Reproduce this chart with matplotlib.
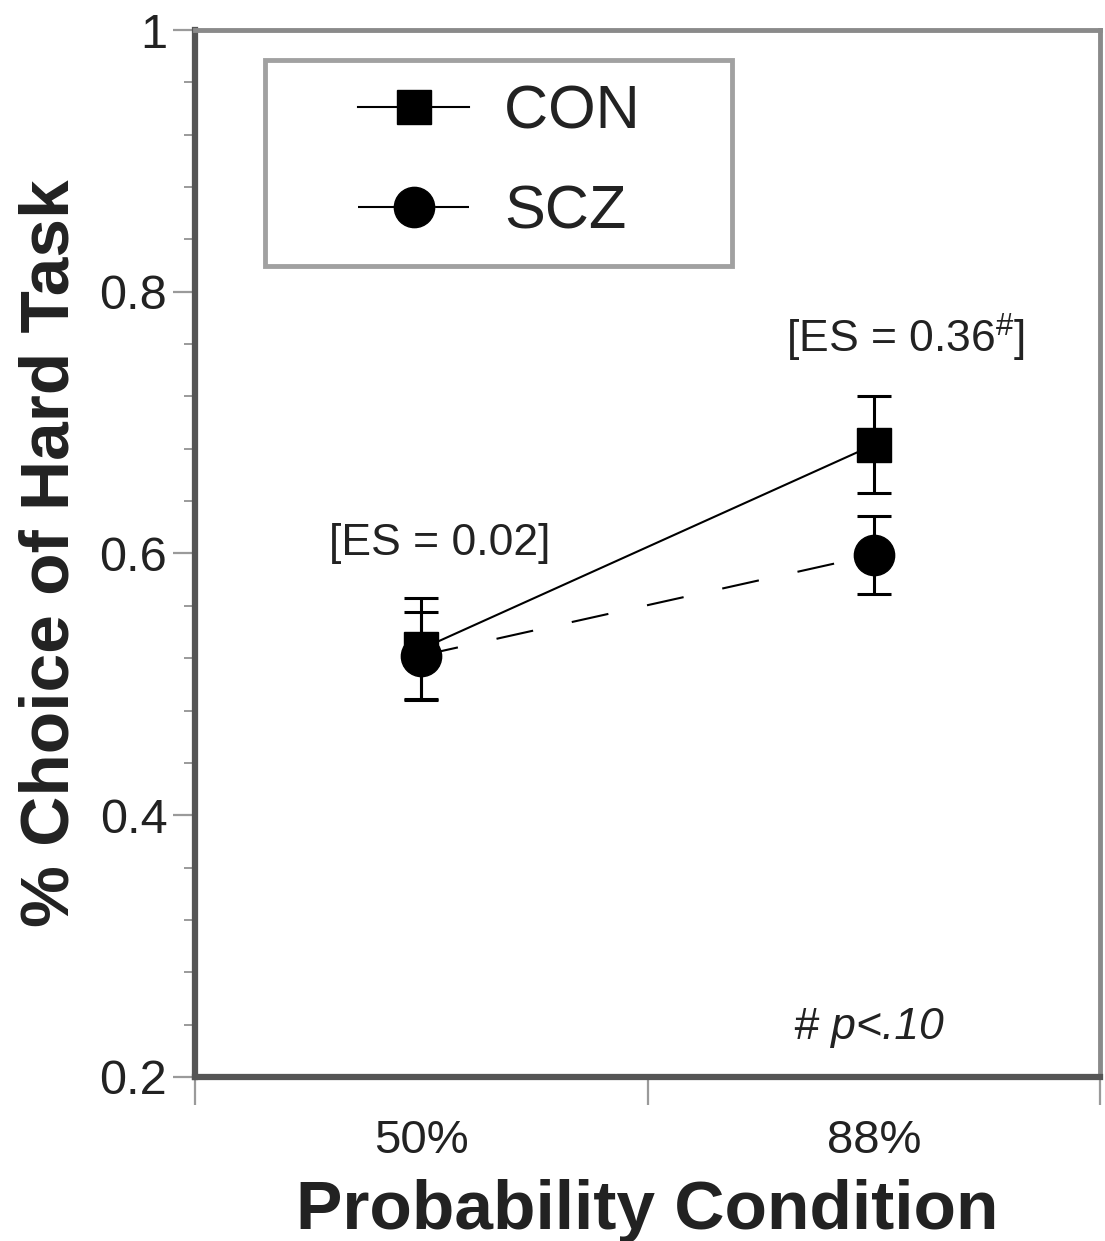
import matplotlib.pyplot as plt
from matplotlib.lines import Line2D
from matplotlib.legend_handler import HandlerLine2D
from matplotlib.ticker import FixedLocator, NullFormatter

plt.rcParams['font.family'] = ['Liberation Sans', 'DejaVu Sans']
plt.rcParams['mathtext.fontset'] = 'custom'
plt.rcParams['mathtext.rm'] = 'Liberation Sans'
plt.rcParams['mathtext.it'] = 'Liberation Sans:italic'

# data
conditions = ['50%', '88%']
con_mean = [0.527, 0.683]
con_err = [0.039, 0.037]
scz_mean = [0.522, 0.599]
scz_err = [0.033, 0.030]
es_labels = ['[ES = 0.02]', '[ES = 0.36$^{\\#}$]']

text_col = '#222222'
spine_col = '#555555'
tick_col = '#9a9a9a'

fig = plt.figure(figsize=(11.05, 12.41), dpi=100)
ax = fig.add_axes([0.1765, 0.1322, 0.819, 0.8436])

x = [i + 1 for i in range(len(conditions))]

ax.errorbar(x, con_mean, yerr=con_err, color='black', marker='s', markersize=25,
            linewidth=1.5, elinewidth=2.2, capsize=12, capthick=2.2, zorder=3)
ax.errorbar(x, scz_mean, yerr=scz_err, color='black', marker='o', markersize=29,
            linewidth=1.5, elinewidth=2.2, capsize=12, capthick=2.2,
            dashes=(18, 19), zorder=4)

ax.set_xlim(0.5, 2.5)
ax.set_ylim(0.2, 1.0)

# y ticks
ax.set_yticks([0.2, 0.4, 0.6, 0.8, 1.0])
ax.set_yticklabels(['0.2', '0.4', '0.6', '0.8', '1'])
ax.yaxis.set_minor_locator(FixedLocator([0.2 + 0.04 * i for i in range(21)]))
ax.tick_params(axis='y', which='major', direction='out', length=16, width=1.6,
               color=tick_col, labelsize=35, labelcolor=text_col, pad=4)
ax.tick_params(axis='y', which='minor', direction='out', length=8, width=1.4,
               color=tick_col)

# x ticks: unlabeled major ticks at edges/middle, labels at points
ax.set_xticks([0.5, 1.5, 2.5])
ax.xaxis.set_major_formatter(NullFormatter())
ax.set_xticks(x, minor=True)
ax.set_xticklabels(conditions, minor=True)
ax.tick_params(axis='x', which='major', direction='out', length=20, width=1.6,
               color=tick_col)
ax.tick_params(axis='x', which='minor', length=0, labelsize=34,
               labelcolor=text_col, pad=30)

for side in ['left', 'bottom']:
    ax.spines[side].set_linewidth(4.5)
    ax.spines[side].set_color(spine_col)
for side in ['top', 'right']:
    ax.spines[side].set_linewidth(3.5)
    ax.spines[side].set_color('#8a8a8a')

ax.set_ylabel('% Choice of Hard Task', fontsize=50, fontweight='bold',
              color=text_col, labelpad=12)
ax.set_xlabel('Probability Condition', fontsize=50, fontweight='bold',
              color=text_col, labelpad=12)

# annotations
ax.text(1.04, 0.608, es_labels[0], fontsize=32, color=text_col,
        ha='center', va='center')
ax.text(2.07, 0.765, es_labels[1], fontsize=32, color=text_col,
        ha='center', va='center')
ax.text(1.99, 0.238, '# p<.10', fontsize=32, color=text_col, style='italic',
        ha='center', va='center')

# legend without error bars
h_con = Line2D([], [], color='black', marker='s', markersize=25, linewidth=1.5)
h_scz = Line2D([], [], color='black', marker='o', markersize=29, linewidth=1.5,
               dashes=(18, 19))
leg = ax.legend([h_con, h_scz], ['CON    ', 'SCZ'], loc='upper left',
                bbox_to_anchor=(0.077, 0.971), fontsize=44,
                frameon=True, fancybox=False, handlelength=2.95,
                handletextpad=0.57, labelspacing=0.7, borderpad=0.4,
                borderaxespad=0,
                handler_map={Line2D: HandlerLine2D(xpad=1.13)})
leg.get_frame().set_edgecolor('#8a8a8a')
leg.get_frame().set_linewidth(3.5)
for t in leg.get_texts():
    t.set_color(text_col)

fig.savefig('out.png', dpi=100)
